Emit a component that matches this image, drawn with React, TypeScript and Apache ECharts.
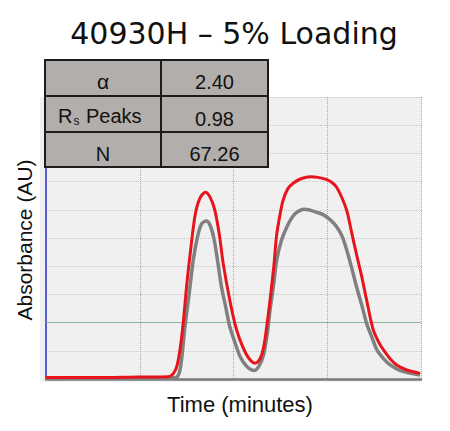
import React, { useEffect, useRef } from "react";
import * as echarts from "echarts";

const TITLE = "40930H – 5% Loading";
const X_NAME = "Time (minutes)";
const Y_NAME = "Absorbance (AU)";

const TABLE_LABELS = ["α", "Rs Peaks", "N"];
const TABLE_VALUES = ["2.40", "0.98", "67.26"];

const THRESHOLD = 2;

const redTime = [0, 0.5, 1.0, 1.3, 1.36, 1.4, 1.44, 1.47, 1.5, 1.54, 1.59, 1.64, 1.7, 1.75, 1.8, 1.85, 1.89, 1.96, 2.02, 2.07, 2.15, 2.23, 2.28, 2.32, 2.36, 2.39, 2.43, 2.46, 2.5, 2.53, 2.58, 2.64, 2.72, 2.82, 2.9, 2.99, 3.05, 3.1, 3.16, 3.21, 3.26, 3.31, 3.37, 3.42, 3.49, 3.55, 3.6, 3.67, 3.74, 3.85, 3.99];
const redValues = [0.05, 0.05, 0.07, 0.08, 0.2, 0.5, 1.3, 2.2, 3.3, 4.5, 5.8, 6.4, 6.62, 6.45, 6.0, 5.1, 4.1, 2.8, 1.9, 1.38, 0.8, 0.56, 0.7, 1.1, 2.0, 2.8, 4.0, 5.1, 5.9, 6.35, 6.75, 6.95, 7.1, 7.17, 7.15, 7.08, 6.97, 6.8, 6.4, 5.95, 5.2, 4.45, 3.6, 2.8, 1.75, 1.3, 1.03, 0.72, 0.5, 0.32, 0.2];

const grayTime = [0, 1.0, 1.38, 1.42, 1.45, 1.48, 1.53, 1.57, 1.62, 1.66, 1.71, 1.75, 1.79, 1.83, 1.87, 1.92, 1.96, 2.02, 2.07, 2.14, 2.22, 2.27, 2.32, 2.36, 2.39, 2.43, 2.46, 2.51, 2.57, 2.63, 2.68, 2.75, 2.8, 2.88, 2.96, 3.03, 3.1, 3.16, 3.21, 3.26, 3.31, 3.37, 3.42, 3.48, 3.53, 3.6, 3.67, 3.78, 3.99];
const grayValues = [0.02, 0.03, 0.04, 0.2, 0.8, 1.8, 3.1, 4.2, 5.1, 5.5, 5.6, 5.45, 5.0, 4.2, 3.3, 2.5, 1.86, 1.25, 0.8, 0.45, 0.3, 0.45, 0.85, 1.6, 2.45, 3.4, 4.2, 4.9, 5.4, 5.75, 5.92, 6.02, 6.0, 5.92, 5.82, 5.65, 5.4, 5.05, 4.55, 3.95, 3.3, 2.6, 1.97, 1.45, 1.03, 0.72, 0.5, 0.3, 0.14];

const SANS = "'Liberation Sans', Arial, sans-serif";

export default function App() {
  const ref = useRef<HTMLDivElement>(null);
  useEffect(() => {
    if (!ref.current) return;
    const chart = echarts.init(ref.current, null, { renderer: "svg" });

    const colX = [45, 161, 268];
    const rowY = [60, 96, 132, 167];
    const tableEls: any[] = [];
    for (let r = 0; r < 3; r++) {
      for (let c = 0; c < 2; c++) {
        tableEls.push({
          type: "rect",
          z: 10,
          shape: { x: colX[c], y: rowY[r], width: colX[c + 1] - colX[c], height: rowY[r + 1] - rowY[r] },
          style: { fill: "#b1aeab", stroke: "#1c1c1c", lineWidth: 2 },
        });
      }
    }
    const leftY = [81, 115.5, 153.5];
    const rightY = [82, 119, 154];
    const txt = (text: string, x: number, y: number, size: number, align = "center") => ({
      type: "text",
      z: 11,
      x,
      y,
      style: { text, fill: "#111", font: `${size}px ${SANS}`, textAlign: align, textVerticalAlign: "middle" },
    });
    const rsLabel = TABLE_LABELS[1];
    tableEls.push(txt(TABLE_LABELS[0], 103, leftY[0], 21));
    tableEls.push(txt(rsLabel.slice(0, 1), 58, leftY[1], 20, "left"));
    tableEls.push(txt(rsLabel.slice(1, 2), 73.5, leftY[1] + 5, 12, "left"));
    tableEls.push(txt(rsLabel.slice(3), 86, leftY[1], 20, "left"));
    tableEls.push(txt(TABLE_LABELS[2], 103, leftY[2], 20));
    for (let r = 0; r < 3; r++) tableEls.push(txt(TABLE_VALUES[r], 214.5, rightY[r], 20));

    chart.setOption({
      animation: false,
      backgroundColor: "#ffffff",
      grid: { left: 46, right: 29, top: 97, bottom: 52 },
      xAxis: {
        type: "value",
        min: 0,
        max: 4,
        interval: 1,
        axisLabel: { show: false },
        axisTick: { show: false },
        axisLine: { show: true, lineStyle: { color: "#7a7a7a", width: 2.5 } },
        splitLine: { show: true, lineStyle: { color: "#a9a9a9", type: "dotted", width: 1 } },
      },
      yAxis: {
        type: "value",
        min: 0,
        max: 10,
        interval: 1,
        axisLabel: { show: false },
        axisTick: { show: false },
        axisLine: { show: true, lineStyle: { color: "#2b35d0", width: 1.5 } },
        splitLine: { show: true, lineStyle: { color: "#c6c6c6", type: "dotted", width: 1 } },
      },
      series: [
        {
          type: "line",
          data: grayTime.map((t, i) => [t, grayValues[i]]),
          showSymbol: false,
          smooth: 0.3,
          lineStyle: { color: "#808080", width: 3.5 },
          z: 3,
        },
        {
          type: "line",
          data: redTime.map((t, i) => [t, redValues[i]]),
          showSymbol: false,
          smooth: 0.3,
          lineStyle: { color: "#e8141b", width: 3 },
          z: 4,
          markLine: {
            silent: true,
            symbol: "none",
            label: { show: false },
            lineStyle: { color: "#88b898", type: "solid", width: 1 },
            data: [{ yAxis: THRESHOLD }],
            z: 1,
          },
        },
      ],
      graphic: [
        {
          type: "rect",
          z: -10,
          shape: { x: 40, y: 97, width: 382, height: 285 },
          style: { fill: "#f0f0f0" },
        },
        {
          type: "text",
          x: 234,
          y: 33,
          style: { text: TITLE, fill: "#111", font: "30px 'DejaVu Sans', sans-serif", textAlign: "center", textVerticalAlign: "middle" },
        },
        {
          type: "text",
          x: 240,
          y: 404,
          style: { text: X_NAME, fill: "#111", font: `22px ${SANS}`, textAlign: "center", textVerticalAlign: "middle" },
        },
        {
          type: "text",
          x: 24,
          y: 240,
          rotation: Math.PI / 2,
          style: { text: Y_NAME, fill: "#111", font: `21px ${SANS}`, textAlign: "center", textVerticalAlign: "middle" },
        },
        ...tableEls,
      ],
    });
    return () => chart.dispose();
  }, []);
  return <div ref={ref} style={{ position: "fixed", left: 0, top: 0, width: 450, height: 431 }} />;
}
